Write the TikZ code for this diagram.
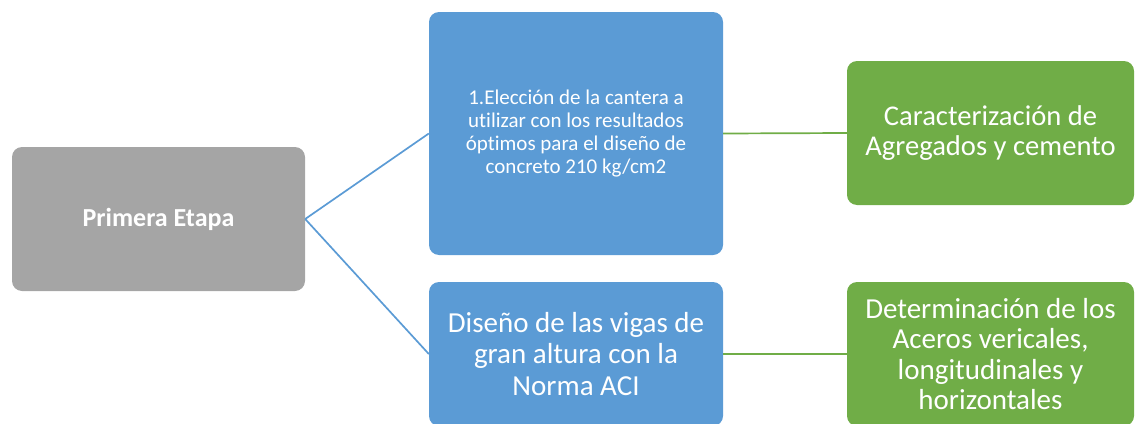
\documentclass[tikz,border=0pt]{standalone}
\usepackage{fontspec}
\setmainfont{Carlito}[Ligatures=NoCommon]
\usepackage{tikz}
\usetikzlibrary{positioning}
\definecolor{grisEt}{HTML}{A5A5A5}
\definecolor{azulEt}{HTML}{5B9BD5}
\definecolor{verdeEt}{HTML}{70AD47}
\tikzset{
  etp/.style={rounded corners=10pt,fill=grisEt,draw=none,text=white,align=center,inner sep=4pt},
  obj/.style={rounded corners=10pt,fill=azulEt,draw=none,text=white,align=center,inner sep=4pt},
  res/.style={rounded corners=10pt,fill=verdeEt,draw=none,text=white,align=center,inner sep=4pt},
  lnkA/.style={draw=azulEt,line width=1.7pt},
  lnkV/.style={draw=verdeEt,line width=1.7pt},
}
\begin{document}
\begin{tikzpicture}[x=1pt,y=-1pt]
\useasboundingbox (0,0) rectangle (1135,423);
% ---------------- etapa
\node[etp,minimum width=293pt,minimum height=144pt,font=\fontsize{26}{30}\selectfont\bfseries]
  (etapa) at (158.5,219) {Primera Etapa};
% ---------------- objetivos
\node[obj,minimum width=294pt,minimum height=243pt,font=\fontsize{21}{23}\selectfont]
  (obj1) at (576,133.5) {1.Elección de la cantera a\\ utilizar con los resultados\\ óptimos para el diseño de\\ concreto 210 kg/cm2};
\node[obj,minimum width=294pt,minimum height=144pt,font=\fontsize{29}{31.7}\selectfont]
  (obj2) at (576,354) {Diseño de las vigas de\\ gran altura con la\\ Norma ACI};
% ---------------- resultados
\node[res,minimum width=287pt,minimum height=144pt,font=\fontsize{28.6}{30.5}\selectfont]
  (res1) at (990.5,133) {Caracterización de\\ Agregados y cemento};
\node[res,minimum width=287pt,minimum height=144pt,font=\fontsize{29}{30.3}\selectfont]
  (res2) at (990.5,354) {Determinación de los\\ Aceros vericales,\\ longitudinales y\\ horizontales};
% ---------------- conectores
\draw[lnkA] (etapa.east) -- (obj1.west);
\draw[lnkA] (etapa.east) -- (obj2.west);
\draw[lnkV] (obj1.east) -- (res1.west);
\draw[lnkV] (obj2.east) -- (res2.west);
\end{tikzpicture}
\end{document}
